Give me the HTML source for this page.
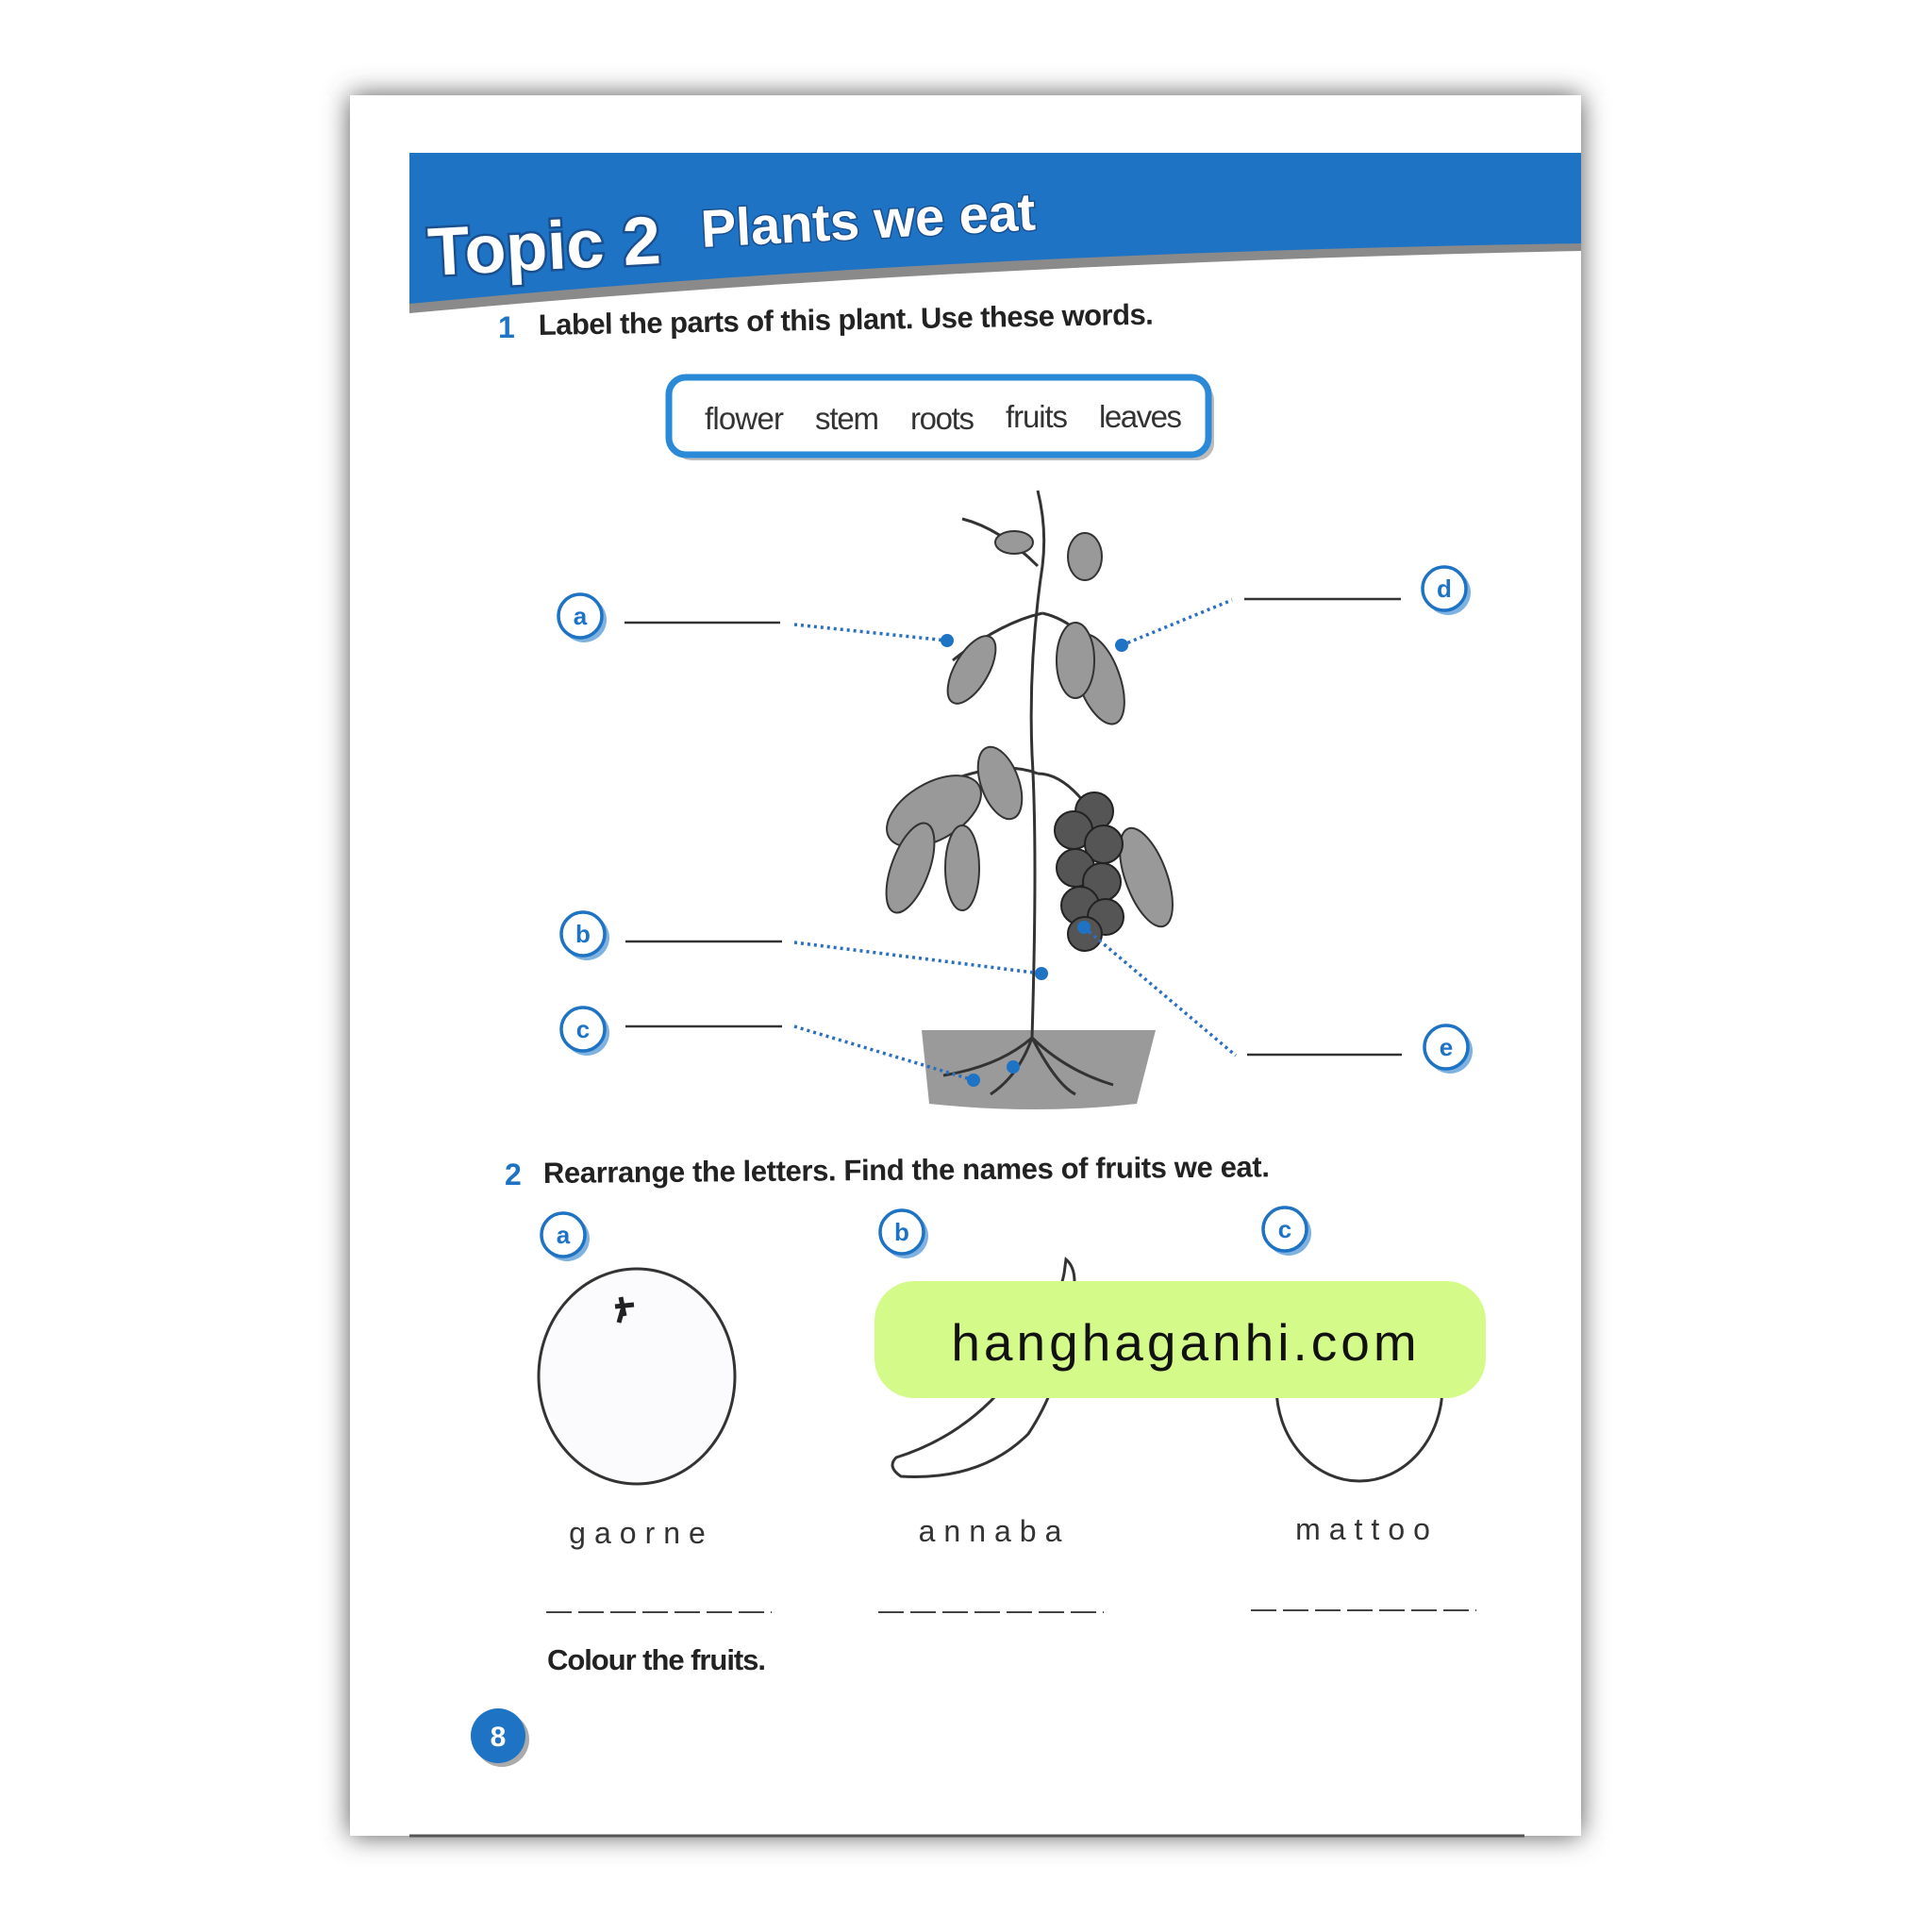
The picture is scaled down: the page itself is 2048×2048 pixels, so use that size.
<!DOCTYPE html>
<html><head><meta charset="utf-8"><style>
html,body{margin:0;padding:0;background:#fff;width:2048px;height:2048px;overflow:hidden}
svg{display:block}
text{font-family:"Liberation Sans",sans-serif}
</style></head><body>
<svg width="2048" height="2048" viewBox="0 0 2048 2048" xmlns="http://www.w3.org/2000/svg">
<defs>
<filter id="sh" x="-10%" y="-10%" width="120%" height="120%"><feGaussianBlur stdDeviation="14"/></filter>
</defs>
<rect x="371" y="101" width="1305" height="1845" fill="#555" filter="url(#sh)"/>
<rect x="371" y="101" width="1305" height="1845" fill="#fff"/>
<!-- banner -->
<path d="M434 162 H1676 V266 Q1000 280 434 332 Z" fill="#8a8a8a"/>
<path d="M434 162 H1676 V258 Q1000 268 434 322 Z" fill="#1e73c4"/>
<text x="455" y="292" font-size="72" font-weight="bold" fill="#fff" stroke="#1a4f8f" stroke-width="5" paint-order="stroke" transform="rotate(-3 455 292)">Topic 2</text>
<text x="744" y="262" font-size="56" font-weight="bold" fill="#fff" stroke="#1a4f8f" stroke-width="3" paint-order="stroke" transform="rotate(-3 744 262)">Plants we eat</text>
<text x="528" y="358" font-size="32" font-weight="bold" fill="#1e73c4">1</text>
<text x="571" y="355" font-size="31" font-weight="bold" fill="#222" textLength="652" transform="rotate(-1 571 355)">Label the parts of this plant. Use these words.</text>
<!-- word box -->
<rect x="715" y="406" width="572" height="82" rx="18" fill="#bbb"/>
<rect x="709" y="400" width="572" height="82" rx="18" fill="#fff" stroke="#2a8ad8" stroke-width="7"/>
<g font-size="33" fill="#333">
<text x="747" y="455" textLength="84">flower</text>
<text x="864" y="455" textLength="68">stem</text>
<text x="965" y="455" textLength="68">roots</text>
<text x="1066" y="453" textLength="66">fruits</text>
<text x="1165" y="453" textLength="88">leaves</text>
</g>
<!-- plant -->
<path d="M977 1092 H1225 L1205 1170 Q1100 1182 985 1170 Z" fill="#9a9a9a"/>
<g stroke="#333" stroke-width="3" fill="none">
<path d="M1094 1100 Q1100 900 1094 800 Q1090 700 1105 600 Q1110 560 1100 520"/>
<path d="M1094 1100 Q1060 1130 1000 1140 M1094 1100 Q1130 1135 1180 1150 M1094 1100 Q1080 1140 1050 1160 M1094 1100 Q1120 1150 1140 1160"/>
<path d="M1100 600 Q1060 560 1020 550 M1105 650 Q1060 660 1010 700 M1105 650 Q1150 660 1180 720 M1100 820 Q1050 800 960 850 M1100 820 Q1140 820 1180 900"/>
</g>
<g fill="#999" stroke="#333" stroke-width="2">
<ellipse cx="990" cy="860" rx="55" ry="30" transform="rotate(-30 990 860)"/>
<ellipse cx="965" cy="920" rx="20" ry="50" transform="rotate(20 965 920)"/>
<ellipse cx="1020" cy="920" rx="18" ry="45"/>
<ellipse cx="1060" cy="830" rx="20" ry="40" transform="rotate(-20 1060 830)"/>
<ellipse cx="1165" cy="720" rx="22" ry="50" transform="rotate(-20 1165 720)"/>
<ellipse cx="1140" cy="700" rx="20" ry="40"/>
<ellipse cx="1030" cy="710" rx="18" ry="40" transform="rotate(30 1030 710)"/>
<ellipse cx="1215" cy="930" rx="22" ry="55" transform="rotate(-20 1215 930)"/>
<ellipse cx="1075" cy="575" rx="20" ry="12"/>
<ellipse cx="1150" cy="590" rx="18" ry="25"/>
</g>
<g fill="#555" stroke="#222" stroke-width="2">
<circle cx="1160" cy="860" r="20"/><circle cx="1138" cy="880" r="20"/><circle cx="1170" cy="895" r="20"/>
<circle cx="1140" cy="920" r="20"/><circle cx="1168" cy="935" r="20"/><circle cx="1145" cy="960" r="20"/>
<circle cx="1172" cy="972" r="19"/><circle cx="1150" cy="990" r="18"/>
</g>
<!-- connectors -->
<g stroke="#333" stroke-width="2.5">
<line x1="662" y1="660" x2="827" y2="660"/><line x1="1319" y1="635" x2="1485" y2="635"/>
<line x1="663" y1="998" x2="829" y2="998"/><line x1="663" y1="1088" x2="829" y2="1088"/>
<line x1="1322" y1="1118" x2="1486" y2="1118"/>
</g>
<g stroke="#2a6fc0" stroke-width="3.5" stroke-dasharray="3 4" fill="none">
<line x1="842" y1="662" x2="1004" y2="679"/><line x1="1189" y1="684" x2="1306" y2="636"/>
<line x1="842" y1="999" x2="1104" y2="1032"/><line x1="842" y1="1088" x2="1032" y2="1145"/>
<line x1="1149" y1="983" x2="1310" y2="1119"/>
</g>
<g fill="#1e73c4">
<circle cx="1004" cy="679" r="7"/><circle cx="1189" cy="684" r="7"/><circle cx="1104" cy="1032" r="7"/>
<circle cx="1032" cy="1145" r="7"/><circle cx="1074" cy="1131" r="7"/><circle cx="1149" cy="983" r="7"/>
</g>
<!-- label circles -->
<g font-size="26" font-weight="bold" fill="#1e73c4" text-anchor="middle">
<g><circle cx="619" cy="657" r="24" fill="#7fb2e0"/><circle cx="615" cy="653" r="23" fill="#fff" stroke="#1e73c4" stroke-width="3.5"/><text x="615" y="662">a</text></g>
<g><circle cx="1535" cy="628" r="24" fill="#7fb2e0"/><circle cx="1531" cy="624" r="23" fill="#fff" stroke="#1e73c4" stroke-width="3.5"/><text x="1531" y="633">d</text></g>
<g><circle cx="622" cy="994" r="24" fill="#7fb2e0"/><circle cx="618" cy="990" r="23" fill="#fff" stroke="#1e73c4" stroke-width="3.5"/><text x="618" y="999">b</text></g>
<g><circle cx="622" cy="1095" r="24" fill="#7fb2e0"/><circle cx="618" cy="1091" r="23" fill="#fff" stroke="#1e73c4" stroke-width="3.5"/><text x="618" y="1100">c</text></g>
<g><circle cx="1537" cy="1114" r="24" fill="#7fb2e0"/><circle cx="1533" cy="1110" r="23" fill="#fff" stroke="#1e73c4" stroke-width="3.5"/><text x="1533" y="1119">e</text></g>
<g><circle cx="601" cy="1313" r="24" fill="#7fb2e0"/><circle cx="597" cy="1309" r="23" fill="#fff" stroke="#1e73c4" stroke-width="3.5"/><text x="597" y="1318">a</text></g>
<g><circle cx="960" cy="1310" r="24" fill="#7fb2e0"/><circle cx="956" cy="1306" r="23" fill="#fff" stroke="#1e73c4" stroke-width="3.5"/><text x="956" y="1315">b</text></g>
<g><circle cx="1366" cy="1307" r="24" fill="#7fb2e0"/><circle cx="1362" cy="1303" r="23" fill="#fff" stroke="#1e73c4" stroke-width="3.5"/><text x="1362" y="1312">c</text></g>
</g>
<!-- section 2 -->
<text x="535" y="1256" font-size="32" font-weight="bold" fill="#1e73c4">2</text>
<text x="576" y="1254" font-size="31" font-weight="bold" fill="#222" textLength="770" transform="rotate(-0.5 576 1254)">Rearrange the letters. Find the names of fruits we eat.</text>
<ellipse cx="675" cy="1459" rx="104" ry="114" fill="#fbfbfd" stroke="#333" stroke-width="3"/>
<path d="M658 1375 L662 1395 M652 1385 L672 1383 M660 1388 L656 1402" stroke="#222" stroke-width="5"/>
<path d="M1130 1335 Q1142 1345 1138 1370 Q1130 1460 1090 1520 Q1040 1570 955 1565 Q940 1555 950 1545 Q1030 1520 1080 1450 Q1120 1390 1128 1350 Z" fill="#fff" stroke="#333" stroke-width="3"/>
<ellipse cx="1441" cy="1470" rx="88" ry="100" fill="#fff" stroke="#333" stroke-width="3"/>
<!-- watermark -->
<rect x="927" y="1358" width="648" height="124" rx="42" fill="#d4fb8a"/>
<text x="1257" y="1442" font-size="55" fill="#111" text-anchor="middle" letter-spacing="4" font-family="DejaVu Sans, sans-serif">hanghaganhi.com</text>
<g font-size="32" fill="#333" text-anchor="middle" letter-spacing="9">
<text x="680" y="1636">gaorne</text><text x="1054" y="1634">annaba</text><text x="1449" y="1632">mattoo</text>
</g>
<g stroke="#444" stroke-width="2" stroke-dasharray="27 7">
<line x1="579" y1="1709" x2="818" y2="1709"/><line x1="931" y1="1709" x2="1170" y2="1709"/><line x1="1326" y1="1707" x2="1565" y2="1707"/>
</g>
<text x="580" y="1770" font-size="31" font-weight="bold" fill="#222" textLength="232">Colour the fruits.</text>
<circle cx="532" cy="1844" r="29" fill="#aaa"/>
<circle cx="528" cy="1840" r="29" fill="#1e73c4"/>
<text x="528" y="1851" font-size="30" font-weight="bold" fill="#fff" text-anchor="middle">8</text>
<line x1="434" y1="1946" x2="1616" y2="1946" stroke="#555" stroke-width="3"/>
</svg>
</body></html>
